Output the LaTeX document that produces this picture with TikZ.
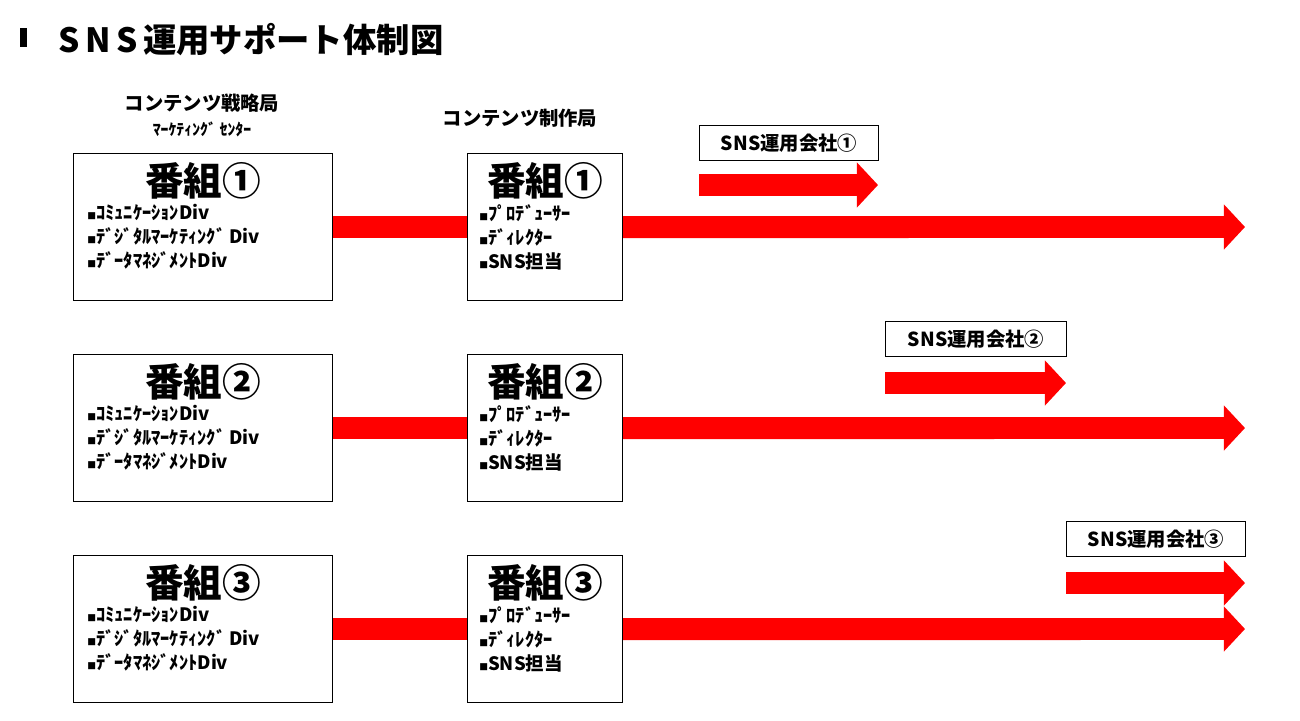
\documentclass[tikz,border=0pt]{standalone}
\usepackage{fontspec}
\newfontfamily\jp{Noto Sans CJK JP}
\usetikzlibrary{positioning, arrows.meta}

\begin{document}
\begin{tikzpicture}[
    x=0.02cm, y=-0.02cm, font=\jp,
    box/.style={draw, line width=0.6pt, anchor=north west, inner sep=0pt},
    bar/.style={red, line width=12.5pt},
    arrow/.style={red, line width=12.5pt, -{Triangle[length=12pt, width=25pt]}},
    label/.style={draw, line width=0.6pt, anchor=north west, minimum height=20pt, inner sep=0pt, font=\jp\bfseries\fontsize{11}{13}\selectfont},
    head/.style={font=\jp\bfseries\fontsize{11}{13}\selectfont},
    items/.style={anchor=north west, align=left, inner sep=0pt, font=\jp\bfseries\fontsize{10.5}{13.6}\selectfont}
]
    \useasboundingbox (0,0) rectangle (1300,720);

    % Title
    \fill (20,28) rectangle (27,47);
    \node[anchor=west, font=\jp\bfseries\fontsize{19}{22}\selectfont] (title) at (52,40) {S\,N\,S\,運用サポート体制図};

    % Headers
    \node[head] (strat) at (202,103) {コンテンツ戦略局};
    \node[font=\jp\bfseries\fontsize{9}{11}\selectfont] (mkt) at (202,129) {ﾏｰｹﾃｨﾝｸﾞ ｾﾝﾀｰ};
    \node[head] (prod) at (520,118) {コンテンツ制作局};

    % Rows
    \foreach \i/\n [evaluate=\i as \y using {153+201*(\i-1)}] in {1/①,2/②,3/③} {
        \node[box, minimum width=259*0.02cm, minimum height=147*0.02cm] (left\i) at (73,\y) {};
        \node[box, minimum width=155*0.02cm, minimum height=147*0.02cm] (mid\i) at (467,\y) {};
        \node[font=\jp\bfseries\fontsize{22}{25}\selectfont] at ([yshift=-28*0.02cm]left\i.north) {番組\n};
        \node[font=\jp\bfseries\fontsize{22}{25}\selectfont] at ([yshift=-28*0.02cm]mid\i.north) {番組\n};
        \node[items] at ([xshift=14*0.02cm, yshift=-51*0.02cm]left\i.north west)
            {{\tiny■}ｺﾐｭﾆｹｰｼｮﾝDiv\\{\tiny■}ﾃﾞｼﾞﾀﾙﾏｰｹﾃｨﾝｸﾞ Div\\{\tiny■}ﾃﾞｰﾀﾏﾈｼﾞﾒﾝﾄDiv};
        \node[items] at ([xshift=12*0.02cm, yshift=-51*0.02cm]mid\i.north west)
            {{\tiny■}ﾌﾟﾛﾃﾞｭｰｻｰ\\{\tiny■}ﾃﾞｨﾚｸﾀｰ\\{\tiny■}SNS担当};
        \coordinate (end\i) at (1245,\y+74);
        \draw[bar] (left\i.east) -- (mid\i.west);
        \draw[arrow] (mid\i.east) -- (end\i);
    }

    % Operating companies
    \node[label, minimum width=179*0.02cm] (co1) at (699,125) {SNS運用会社①};
    \node[label, minimum width=181*0.02cm] (co2) at (885,321) {SNS運用会社②};
    \node[label, minimum width=179*0.02cm] (co3) at (1066,521) {SNS運用会社③};
    \coordinate (co1e) at (878,185);
    \coordinate (co2e) at (1066,383);
    \coordinate (co3e) at (1245,583);
    \draw[arrow] (co1.west |- co1e) -- (co1e);
    \draw[arrow] (co2.west |- co2e) -- (co2e);
    \draw[arrow] (co3.west |- co3e) -- (co3e);
\end{tikzpicture}
\end{document}
